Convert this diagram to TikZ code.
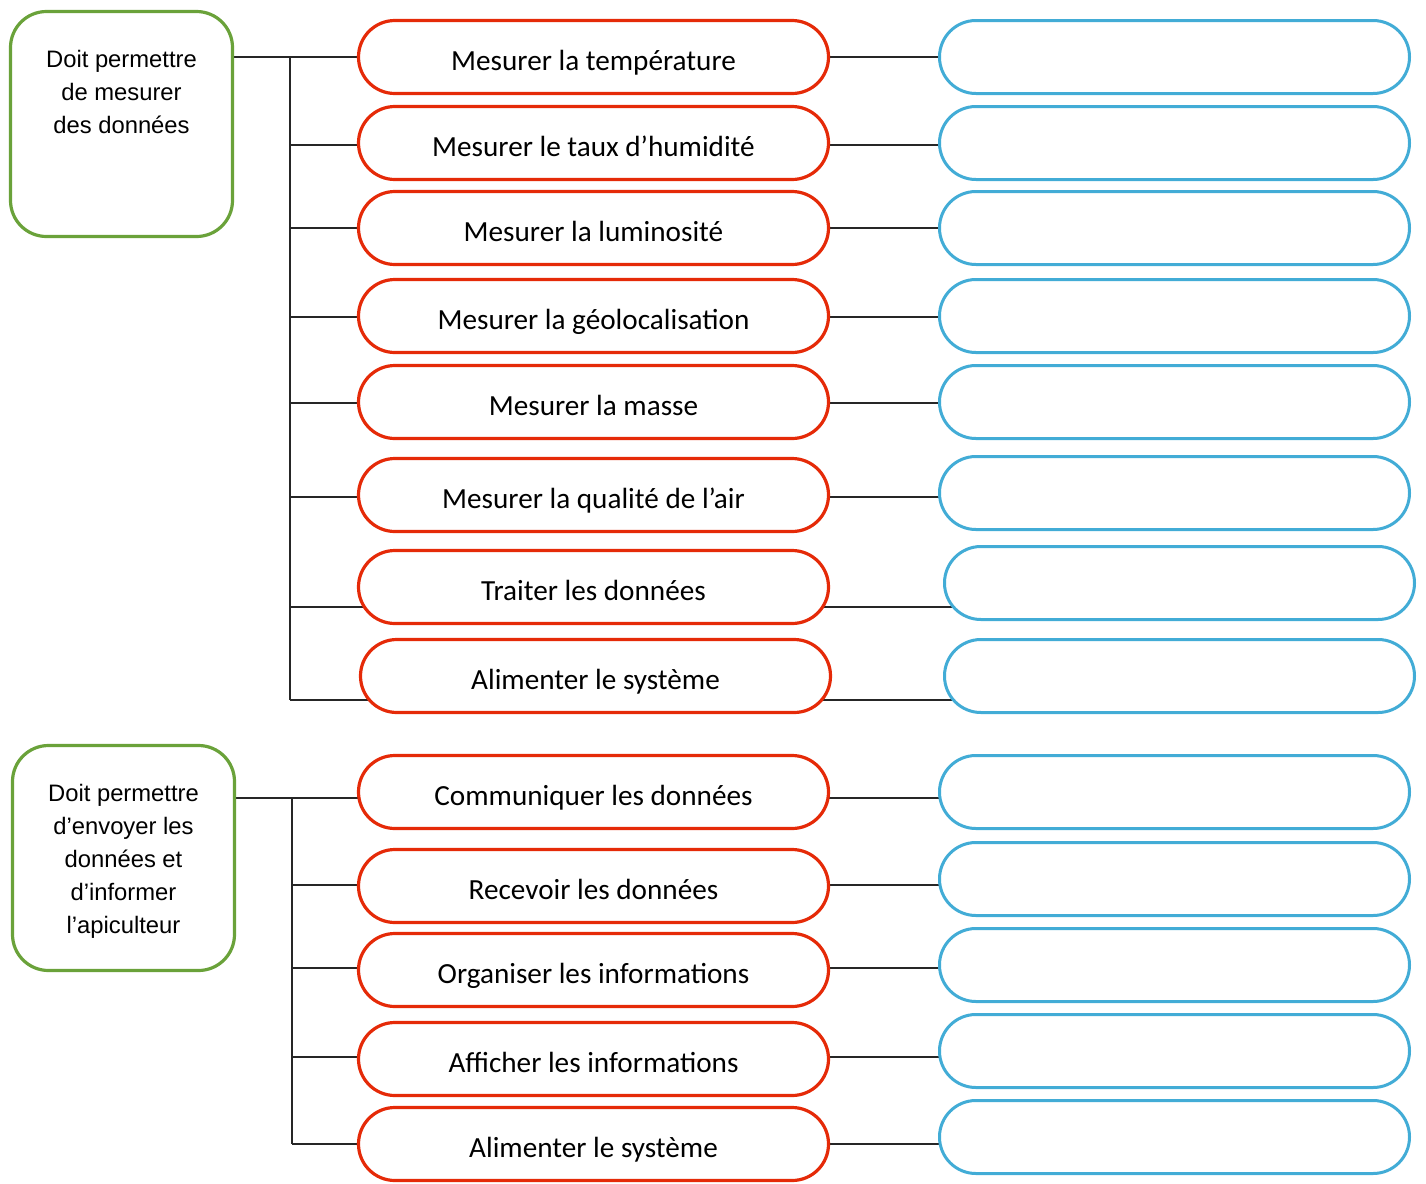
\documentclass[tikz,border=0pt]{standalone}
\usepackage{fontspec}
\setmainfont{Carlito}
\newfontfamily\arialfont{Liberation Sans}
\usepackage{tikz}
\usetikzlibrary{backgrounds}

\definecolor{fpgreen}{RGB}{106,162,58}
\definecolor{fsred}{RGB}{229,42,8}
\definecolor{stblue}{RGB}{66,172,214}
\definecolor{liengris}{RGB}{38,38,38}

\begin{document}
\begin{tikzpicture}[x=0.5pt, y=-0.5pt,
    fp/.style={draw=fpgreen, line width=1.6pt, rounded corners=18pt, minimum width=111pt, minimum height=112.5pt, fill=white},
    fptext/.style={align=center, anchor=north, inner sep=0pt, font=\arialfont\fontsize{11.9pt}{16.5pt}\selectfont},
    fs/.style={draw=fsred, line width=1.6pt, rounded corners=18.2pt, minimum width=235pt, minimum height=36.5pt, fill=white, text height=13.3pt, text depth=0pt, font=\fontsize{14.6pt}{17pt}\selectfont},
    st/.style={draw=stblue, line width=1.5pt, rounded corners=18.2pt, minimum width=235pt, minimum height=36.5pt, fill=white},
    lien/.style={draw=liengris, line width=1pt}]
      \useasboundingbox (0,0) rectangle (1426,1184);

      % fonctions principales
      \node[fp]      (FP1)  at (121.5,  124)  {};
      \node[fptext]  (FP1t) at (121.5,   50)  {Doit permettre \\ de mesurer \\ des données};
      \node[fp]      (FP2)  at (123.5,  858)  {};
      \node[fptext]  (FP2t) at (123.5,  784)  {Doit permettre \\ d’envoyer les \\ données et \\ d’informer \\ l’apiculteur};

      % fonctions secondaires
      \node[fs]  (MT)  at (593.5,   57)  {Mesurer la température};
      \node[fs]  (MH)  at (593.5,  143)  {Mesurer le taux d’humidité};
      \node[fs]  (ML)  at (593.5,  228)  {Mesurer la luminosité};
      \node[fs]  (MG)  at (593.5,  316)  {Mesurer la géolocalisation};
      \node[fs]  (MM)  at (593.5,  402)  {Mesurer la masse};
      \node[fs]  (MQ)  at (593.5,  495)  {Mesurer la qualité de l’air};
      \node[fs]  (TD)  at (593.5,  587)  {Traiter les données};
      \node[fs]  (AS)  at (595.5,  676)  {Alimenter le système};

      \node[fs]  (CD)  at (593.5,  792)  {Communiquer les données};
      \node[fs]  (RD)  at (593.5,  886)  {Recevoir les données};
      \node[fs]  (OI)  at (593.5,  970)  {Organiser les informations};
      \node[fs]  (AI)  at (593.5, 1059)  {Afficher les informations};
      \node[fs]  (AS2) at (593.5, 1144)  {Alimenter le système};

      % solutions techniques (vides)
      \node[st]  (sMT)  at (1174.5,   57)  {};
      \node[st]  (sMH)  at (1174.5,  143)  {};
      \node[st]  (sML)  at (1174.5,  228)  {};
      \node[st]  (sMG)  at (1174.5,  316)  {};
      \node[st]  (sMM)  at (1174.5,  402)  {};
      \node[st]  (sMQ)  at (1174.5,  493)  {};
      \node[st]  (sTD)  at (1179.5,  583)  {};
      \node[st]  (sAS)  at (1179.5,  676)  {};

      \node[st]  (sCD)  at (1174.5,  792)  {};
      \node[st]  (sRD)  at (1174.5,  879)  {};
      \node[st]  (sOI)  at (1174.5,  965)  {};
      \node[st]  (sAI)  at (1174.5, 1051)  {};
      \node[st]  (sAS2) at (1174.5, 1137)  {};

      % points sur les barres verticales
      \coordinate (jMT)  at (290,   57);
      \coordinate (jMH)  at (290,  145);
      \coordinate (jML)  at (290,  228);
      \coordinate (jMG)  at (290,  317);
      \coordinate (jMM)  at (290,  403);
      \coordinate (jMQ)  at (290,  497);
      \coordinate (jTD)  at (290,  607);
      \coordinate (jAS)  at (290,  700);

      \coordinate (jCD)  at (292,  798);
      \coordinate (jRD)  at (292,  885);
      \coordinate (jOI)  at (292,  968);
      \coordinate (jAI)  at (292, 1057);
      \coordinate (jAS2) at (292, 1144);

      \begin{scope}[on background layer]
        \draw[lien] (FP1.east |- jMT) -- (MT.center |- jMT);
        \draw[lien] (jMT) -- (jAS);
        \draw[lien] (jMH) -- (MH.center |- jMH);
        \draw[lien] (jML) -- (ML.center |- jML);
        \draw[lien] (jMG) -- (MG.center |- jMG);
        \draw[lien] (jMM) -- (MM.center |- jMM);
        \draw[lien] (jMQ) -- (MQ.center |- jMQ);
        \draw[lien] (jTD) -- (TD.center |- jTD);
        \draw[lien] (jAS) -- (AS.center |- jAS);

        \draw[lien] (FP2.east |- jCD) -- (CD.center |- jCD);
        \draw[lien] (jCD) -- (jAS2);
        \draw[lien] (jRD) -- (RD.center |- jRD);
        \draw[lien] (jOI) -- (OI.center |- jOI);
        \draw[lien] (jAI) -- (AI.center |- jAI);
        \draw[lien] (jAS2) -- (AS2.center |- jAS2);

        \draw[lien] (MT.center |- jMT) -- (sMT.center |- jMT);
        \draw[lien] (MH.center |- jMH) -- (sMH.center |- jMH);
        \draw[lien] (ML.center |- jML) -- (sML.center |- jML);
        \draw[lien] (MG.center |- jMG) -- (sMG.center |- jMG);
        \draw[lien] (MM.center |- jMM) -- (sMM.center |- jMM);
        \draw[lien] (MQ.center |- jMQ) -- (sMQ.center |- jMQ);
        \draw[lien] (TD.center |- jTD) -- (sTD.center |- jTD);
        \draw[lien] (AS.center |- jAS) -- (sAS.center |- jAS);

        \draw[lien] (CD.center |- jCD) -- (sCD.center |- jCD);
        \draw[lien] (RD.center |- jRD) -- (sRD.center |- jRD);
        \draw[lien] (OI.center |- jOI) -- (sOI.center |- jOI);
        \draw[lien] (AI.center |- jAI) -- (sAI.center |- jAI);
        \draw[lien] (AS2.center |- jAS2) -- (sAS2.center |- jAS2);
      \end{scope}
    \end{tikzpicture}
\end{document}
